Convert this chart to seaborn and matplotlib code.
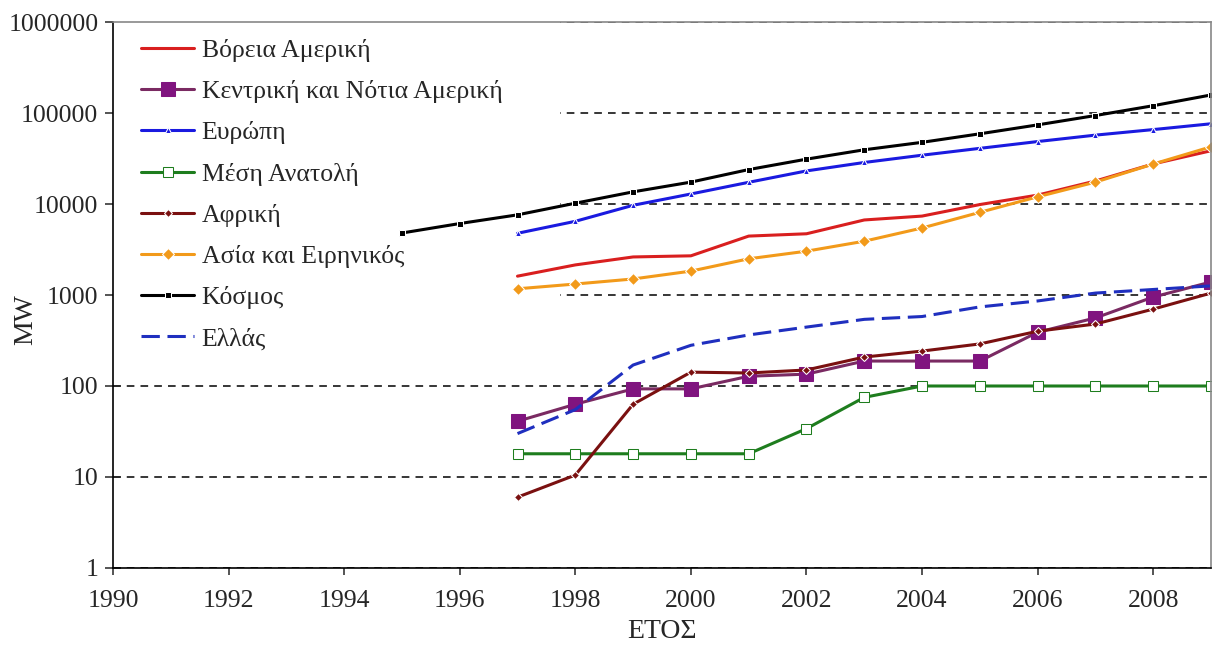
import numpy as np
import matplotlib
matplotlib.use("Agg")
import matplotlib.pyplot as plt
import matplotlib.ticker as mticker
import seaborn as sns
import pandas as pd

# installed wind capacity (MW) per region
YEARS_WORLD = [1995, 1996, 1997, 1998, 1999, 2000, 2001, 2002, 2003, 2004, 2005, 2006, 2007, 2008, 2009]
YEARS       = [1997, 1998, 1999, 2000, 2001, 2002, 2003, 2004, 2005, 2006, 2007, 2008, 2009]

north_america = [1611, 2141, 2619, 2695, 4440, 4708, 6677, 7367, 9863, 12526, 17901, 27568, 38478]
latin_america = [41, 63, 93, 93, 128, 135, 188, 188, 188, 390, 560, 950, 1390]
europe        = [4766, 6453, 9678, 12887, 17315, 23098, 28599, 34372, 40898, 48563, 57136, 65741, 76152]
middle_east   = [18, 18, 18, 18, 18, 34, 75, 100, 100, 100, 100, 100, 100]
africa        = [6, 10.5, 63, 142, 139, 150, 208, 242, 290, 400, 480, 700, 1050]
asia_pacific  = [1170, 1320, 1500, 1830, 2500, 3030, 3900, 5450, 8100, 12000, 17400, 27500, 42500]
world         = [4800, 6100, 7600, 10200, 13600, 17400, 23900, 31100, 39431, 47620, 59091, 74052, 93820, 120291, 157899]
greece        = [30, 55, 170, 280, 364, 444, 540, 580, 740, 860, 1050, 1150, 1260]

LABELS = ["Βόρεια Αμερική", "Κεντρική και Νότια Αμερική", "Ευρώπη", "Μέση Ανατολή",
          "Αφρική", "Ασία και Ειρηνικός", "Κόσμος", "Ελλάς"]
Y_TICKS = [1, 10, 100, 1000, 10000, 100000, 1000000]
X_TICKS = [1990, 1992, 1994, 1996, 1998, 2000, 2002, 2004, 2006, 2008]

SERIES = [
    (YEARS, north_america, dict(color="#d91f1f")),
    (YEARS, latin_america, dict(color="#7a2a62", marker="s", markersize=10,
                                markerfacecolor="#80147f", markeredgecolor="#80147f")),
    (YEARS, europe,        dict(color="#1a1ae0", marker="^", markersize=5)),
    (YEARS, middle_east,   dict(color="#1e7d1e", marker="s", markersize=7,
                                markerfacecolor="white", markeredgecolor="#1e7d1e")),
    (YEARS, africa,        dict(color="#7a1010", marker="D", markersize=4)),
    (YEARS, asia_pacific,  dict(color="#f29a1a", marker="D", markersize=6)),
    (YEARS_WORLD, world,   dict(color="black", marker="s", markersize=5)),
    (YEARS, greece,        dict(color="#1f2fbf", dashes=(6, 2.5))),
]

sns.set_style("white")
plt.rcParams["font.family"] = ["Liberation Serif", "DejaVu Serif"]

fig = plt.figure(figsize=(12.12, 6.51), dpi=100)
ax = fig.add_axes([0.0932, 0.1275, 0.906, 0.8387])

for (xs, ys, style), label in zip(SERIES, LABELS):
    df = pd.DataFrame({"year": xs, "mw": ys})
    style = dict(style)
    dashes = style.pop("dashes", None)
    sns.lineplot(data=df, x="year", y="mw", ax=ax, label=label,
                 linewidth=2.2, **style)
    if dashes is not None:
        ax.lines[-1].set_dashes(dashes)

ax.set_yscale("log")
ax.set_ylim(1, 1000000)
ax.set_xlim(1990, 2009)
ax.set_yticks(Y_TICKS)
ax.yaxis.set_major_formatter(mticker.FuncFormatter(lambda v, p: f"{int(round(v))}"))
ax.yaxis.set_minor_locator(mticker.NullLocator())
ax.set_xticks(X_TICKS)

ax.set_axisbelow(True)
ax.yaxis.grid(True, color="black", linestyle=(0, (5, 4)), linewidth=1.1)
ax.xaxis.grid(False)

for side in ["left", "bottom"]:
    ax.spines[side].set_color("black")
    ax.spines[side].set_linewidth(1.2)
for side in ["top", "right"]:
    ax.spines[side].set_color("#888888")
    ax.spines[side].set_linewidth(1.2)

ax.tick_params(axis="y", which="major", direction="inout", length=11, width=1.1,
               left=True, labelsize=18.5, pad=5)
ax.tick_params(axis="x", which="major", direction="out", length=5, width=1.1,
               bottom=True, labelsize=18.5, pad=11)

ax.set_xlabel("ΕΤΟΣ", fontsize=20, labelpad=5)
ax.set_ylabel("MW", fontsize=20)
ax.yaxis.set_label_coords(-0.068, 0.455)

leg = ax.legend(loc="upper left", bbox_to_anchor=(0.0, 1.021, 0.407, 0.0), mode="expand",
                fontsize=18.5, frameon=True, facecolor="white", edgecolor="none",
                framealpha=1, fancybox=False, borderaxespad=0, handlelength=2.05,
                handletextpad=0.3, labelspacing=0.71, borderpad=1.1)
leg.set_zorder(1.5)

plt.savefig("out.png", dpi=100)
plt.close()
